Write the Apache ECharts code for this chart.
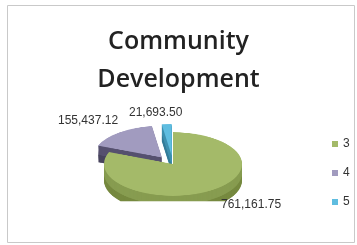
<!DOCTYPE html>
<html>
<head>
<meta charset="utf-8">
<script src="https://cdn.jsdelivr.net/npm/echarts@6/dist/echarts.min.js"></script>
<style>
  html, body { margin: 0; padding: 0; background: #fff; }
  .wrap { position: relative; width: 357px; height: 245px; }
  .layer { position: absolute; left: 0; top: 0; width: 357px; height: 245px; }
  /* the pie is flattened to look like the tilted 3d pie of the scan */
  #pie { transform: scaleY(0.46); transform-origin: 0 164px; }
</style>
</head>
<body>
<div class="wrap">
  <div id="pie" class="layer"></div>
  <div id="front" class="layer"></div>
</div>
<script>
const categories = ['3', '4', '5']
const values = [761161.75, 155437.12, 21693.50]
const topColors = ['#a4ba69', '#a19bbf', '#5fbde0']
const sideColors = ['#879c50', '#56516f', '#3f91b0']
const bottomColors = ['#76893f', '#48445e', '#357d99']
const titleLines = ['Community', 'Development']

function fmt(v) {
  return v.toLocaleString('en-US', { minimumFractionDigits: 2, maximumFractionDigits: 2 })
}

function pieLayer(depth, colors, z) {
  return {
    type: 'pie',
    center: [173, 164 + depth],
    radius: [0, 69],
    startAngle: 90,
    selectedMode: 'multiple',
    selectedOffset: 18,
    silent: true,
    z: z,
    label: { show: false },
    labelLine: { show: false },
    itemStyle: { borderWidth: 0 },
    data: categories.map((c, i) => ({
      name: c,
      value: values[i],
      selected: i > 0,
      itemStyle: { color: colors[i] }
    }))
  }
}

const pieChart = echarts.init(document.getElementById('pie'))
const layers = []
// side of the disc: stacked copies, darker near the bottom
for (let d = 36; d > 0; d -= 2) {
  layers.push(pieLayer(d, d > 20 ? bottomColors : sideColors, 1))
}
layers.push(pieLayer(0, topColors, 2))
pieChart.setOption({ animation: false, series: layers })

const front = echarts.init(document.getElementById('front'))
front.setOption({
  animation: false,
  title: {
    text: titleLines.join('\n'),
    left: 'center',
    top: 23,
    padding: [0, 0, 0, 17],
    textStyle: {
      fontFamily: 'Open Sans',
      fontSize: 25,
      fontWeight: 600,
      lineHeight: 38,
      color: '#222'
    }
  },
  legend: {
    orient: 'vertical',
    left: 327,
    top: 133,
    itemWidth: 6,
    itemHeight: 6,
    itemGap: 17,
    icon: 'rect',
    textStyle: { fontFamily: 'Liberation Sans', fontSize: 12, color: '#333' },
    data: categories
  },
  series: [{
    type: 'pie',
    radius: [0, 0],
    center: [173, 164],
    silent: true,
    label: { show: false },
    labelLine: { show: false },
    data: categories.map((c, i) => ({ name: c, value: values[i], itemStyle: { color: topColors[i] } }))
  }],
  graphic: [
    {
      type: 'rect',
      shape: { x: 7.5, y: 5.5, width: 347, height: 237 },
      style: { fill: 'none', stroke: '#c9c9c9', lineWidth: 1 }
    },
    {
      type: 'text', x: 221, y: 205,
      style: { text: fmt(values[0]), fontFamily: 'Liberation Sans', fontSize: 12, fill: '#333', textVerticalAlign: 'middle' }
    },
    {
      type: 'text', x: 58, y: 121,
      style: { text: fmt(values[1]), fontFamily: 'Liberation Sans', fontSize: 12, fill: '#333', textVerticalAlign: 'middle' }
    },
    {
      type: 'text', x: 129, y: 113,
      style: { text: fmt(values[2]), fontFamily: 'Liberation Sans', fontSize: 12, fill: '#333', textVerticalAlign: 'middle' }
    }
  ]
})
</script>
</body>
</html>
